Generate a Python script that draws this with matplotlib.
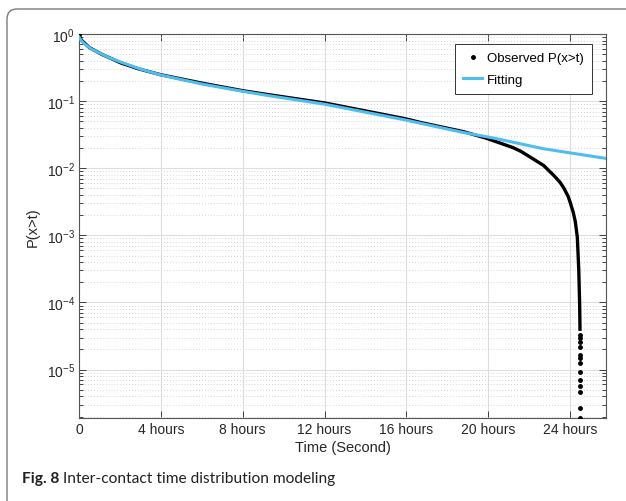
"""
Inter-contact time distribution: observed CCDF and fitted curve (log y axis)
"""
import numpy as np
import matplotlib
matplotlib.use("Agg")
import matplotlib.pyplot as pl
from matplotlib.patches import FancyBboxPatch

# observed P(x>t), dense part (hours, probability)
obs_hours = [0.0, 0.1, 0.5, 1.1, 2.05, 2.9, 4.0, 6.1, 8.0, 9.4, 12.0, 15.9,
             16.7, 18.8, 19.9, 20.7, 21.2, 21.6, 22.2, 22.7, 23.2, 23.5,
             23.7, 23.9, 24.0, 24.15, 24.25, 24.35, 24.42, 24.46, 24.48]
obs_p = [1.0, 0.82, 0.63, 0.50, 0.37, 0.303, 0.247, 0.183, 0.143, 0.123,
         0.094, 0.055, 0.048, 0.035, 0.028, 0.023, 0.0203, 0.0178, 0.0137,
         0.011, 0.0078, 0.0062, 0.0050, 0.0038, 0.0031, 0.0022, 0.0016,
         0.00093, 0.0003, 0.0001, 0.00004]
# sparse tail points of the observed curve
tail_hours = [24.49] * 13
tail_p = [3.3e-5, 3.0e-5, 2.6e-5, 2.2e-5, 1.66e-5, 1.51e-5, 1.26e-5,
          9.3e-6, 7.1e-6, 5.6e-6, 4.6e-6, 2.7e-6, 1.9e-6]

# fitted curve
fit_hours = [0.0, 0.1, 0.3, 0.6, 1.0, 1.5, 2.0, 3.0, 4.0, 6.0, 8.0, 9.4,
             12.0, 16.0, 18.8, 20.3, 22.7, 25.75]
fit_p = [0.90, 0.80, 0.70, 0.60, 0.52, 0.44, 0.385, 0.30, 0.245, 0.18,
         0.14, 0.119, 0.090, 0.052, 0.034, 0.028, 0.0195, 0.014]

tick_hours = [0, 4, 8, 12, 16, 20, 24]
tick_labels = ["0", "4 hours", "8 hours", "12 hours", "16 hours",
               "20 hours", "24 hours"]

blue = "#4DBEEE"
axcol = "#262626"

if __name__ == '__main__':
    pl.rcParams['font.family'] = ['Liberation Sans', 'DejaVu Sans']
    fig = pl.figure(figsize=(6.26, 5.02), dpi=100)
    ax = fig.add_axes([79/626, 1-419/502, 527/626, 384/502])

    sec = 3600.0
    t_obs = np.array(obs_hours) * sec
    t_tail = np.array(tail_hours) * sec
    t_fit = np.array(fit_hours) * sec

    ax.plot(t_obs, obs_p, '-', color='k', lw=2.4, zorder=3,
            solid_joinstyle='round')
    ax.plot(np.concatenate([t_obs[:1], t_tail]),
            np.concatenate([obs_p[:1], tail_p]),
            '.', color='k', ms=5, label="Observed P(x>t)", zorder=3)
    ax.plot(t_fit, fit_p, '-', color=blue, lw=2.2, label="Fitting", zorder=4)

    ax.set_yscale('log')
    ax.set_ylim(1.9e-6, 1.0)
    ax.set_xlim(0, 25.75 * sec)
    ax.set_xticks(np.array(tick_hours) * sec)
    ax.set_xticklabels(tick_labels)
    ax.yaxis.set_major_locator(matplotlib.ticker.LogLocator(base=10, numticks=10))
    ax.yaxis.set_minor_locator(matplotlib.ticker.LogLocator(base=10, subs=np.arange(2, 10), numticks=20))
    ax.yaxis.set_minor_formatter(matplotlib.ticker.NullFormatter())

    ax.grid(True, which='major', color='#dedede', lw=0.8, ls='-', zorder=0)
    ax.grid(True, which='minor', axis='y', color='#c8c8c8', lw=0.6, ls=(0, (1, 2.5)), zorder=0)
    ax.set_axisbelow(True)
    ax.tick_params(which='both', direction='in', top=True, right=True,
                   colors=axcol, labelsize=10, width=0.6)
    ax.tick_params(which='major', length=5)
    ax.tick_params(which='minor', length=3)
    ax.tick_params(axis='x', pad=3)
    ax.tick_params(axis='y', pad=3)
    for sp in ax.spines.values():
        sp.set_color('#555555')
        sp.set_linewidth(0.8)

    ax.set_xlabel("Time (Second)", fontsize=10.5, color=axcol)
    ax.set_ylabel("P(x>t)", fontsize=10.5, color=axcol)
    ax.xaxis.set_label_coords(0.5, -0.058)
    ax.yaxis.set_label_coords(-0.074, 0.5)

    leg = ax.legend(loc='upper right', bbox_to_anchor=(0.973, 0.974),
                    borderaxespad=0, fancybox=False, framealpha=1,
                    edgecolor='#333333', fontsize=9.5, handlelength=1.4,
                    handletextpad=0.4, borderpad=0.6, labelspacing=0.7)
    leg.get_frame().set_linewidth(0.7)

    # panel frame with rounded top-left corner
    frame = FancyBboxPatch((0.07, -1.0), 8.0, 5.92, transform=fig.dpi_scale_trans,
                           boxstyle="round,pad=0,rounding_size=0.1",
                           facecolor='none', edgecolor='#7a7a7a', lw=1.0)
    fig.patches.append(frame)

    cap_font = ['Lato', 'DejaVu Sans']
    cap1 = fig.text(22/626, 19/502, "Fig. 8", fontsize=11.2, fontweight='bold',
                    family=cap_font, color='#231f20', va='baseline')
    fig.canvas.draw()
    bb = cap1.get_window_extent()
    fig.text((bb.x1 + 4)/626, 19/502, "Inter-contact time distribution modeling",
             fontsize=11.2, family=cap_font, color='#231f20', va='baseline')

    fig.savefig("out.png", dpi=100)
